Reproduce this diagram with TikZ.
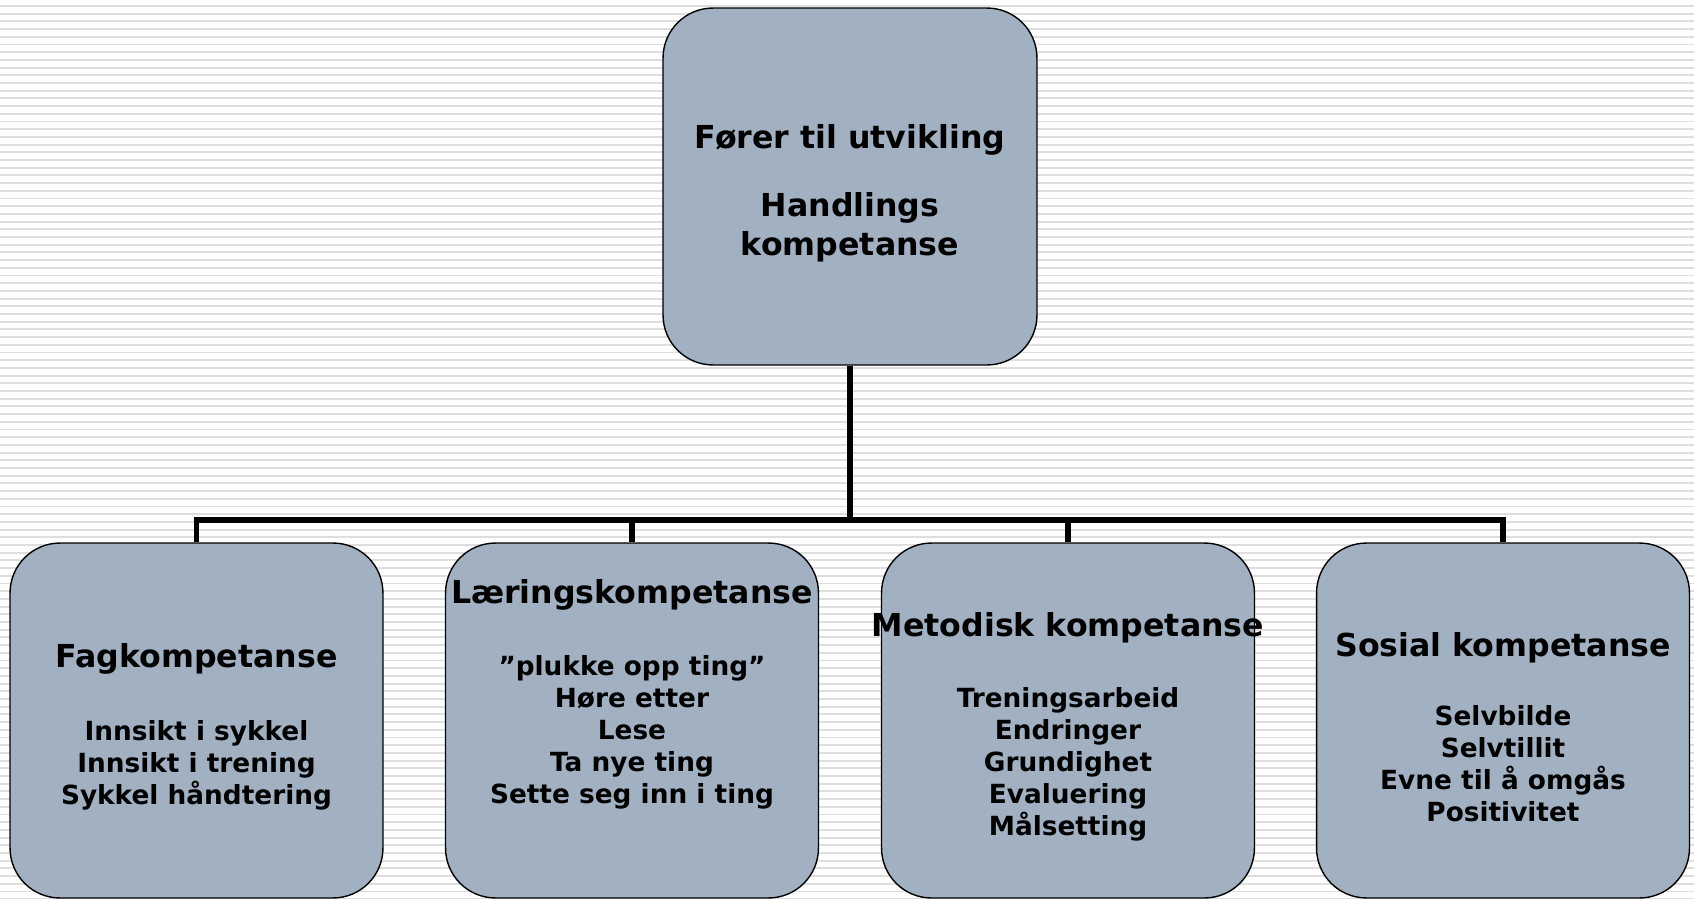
\documentclass[tikz,border=0pt]{standalone}
\usepackage{fontspec}
\setmainfont{DejaVu Sans}
\usetikzlibrary{positioning}
\definecolor{cardgray}{RGB}{162,177,194}
\definecolor{stripegray}{RGB}{222,222,222}

\newcommand{\headtxt}[1]{{\fontsize{18}{22}\selectfont\rule{0pt}{21pt}\makebox[0pt][c]{#1}}}

\begin{document}
\begin{tikzpicture}[
  x=0.02cm, y=-0.02cm,
  every node/.style={font=\bfseries\fontsize{15}{18.2}\selectfont},
  card/.style={draw=black, line width=0.8pt, fill=cardgray, rounded corners=1cm, minimum width=7.46cm, minimum height=7.1cm, align=center, inner sep=0pt},
  link/.style={line width=3.4pt, black}
]

  % bakgrunn
  \useasboundingbox (0,0) rectangle (1694,899);
  \fill[white] (0,0) rectangle (1694,899);
  \foreach \k in {0,...,116}
    \draw[stripegray, line width=1.1pt] (0,6+7.7*\k) -- (1694,6+7.7*\k);

  % toppen
  \node[card, minimum width=7.48cm, minimum height=7.14cm, font=\bfseries\fontsize{18}{22}\selectfont] (top) at (850,186.5)
    {\rule{0pt}{21pt}Fører til utvikling\\[17pt] Handlings\\ kompetanse};

  % kompetanser
  \node[card] (fag) at (196.5,720.5) {\headtxt{Fagkompetanse}\\[23pt] Innsikt i sykkel\\ Innsikt i trening\\ Sykkel håndtering};
  \node[card] (lar) at (632,720.5) {\headtxt{Læringskompetanse}\\[23pt] ”plukke opp ting”\\ Høre etter\\ Lese\\ Ta nye ting\\ Sette seg inn i ting\\[17pt]\strut};
  \node[card] (met) at (1068,720.5) {\headtxt{Metodisk kompetanse}\\[22pt] Treningsarbeid\\ Endringer\\ Grundighet\\ Evaluering\\ Målsetting};
  \node[card] (sos) at (1503,720.5) {\headtxt{Sosial kompetanse}\\[21pt] Selvbilde\\ Selvtillit\\ Evne til å omgås\\ Positivitet};

  \coordinate (hub) at (850,520);
  \draw[link] (top.south) -- (hub);
  \draw[link] (fag.north) |- (hub) -| (sos.north);
  \draw[link] (lar.north) -- (lar.north |- hub);
  \draw[link] (met.north) -- (met.north |- hub);

\end{tikzpicture}
\end{document}
